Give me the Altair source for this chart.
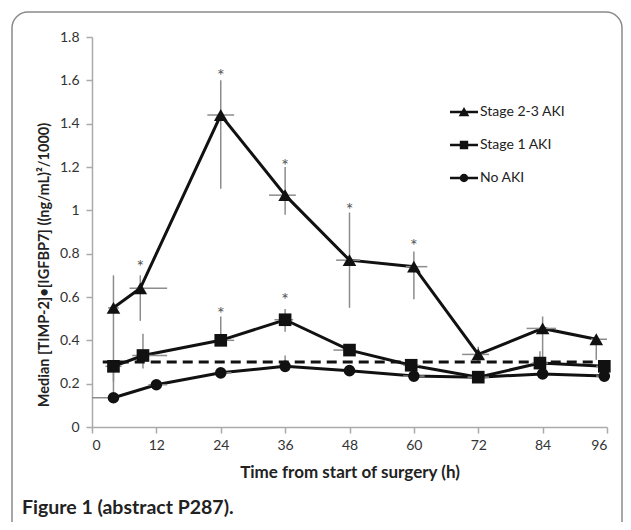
import altair as alt
import pandas as pd

# ---------------- data ----------------
series_names = ["Stage 2-3 AKI", "Stage 1 AKI", "No AKI"]

s23_t = [4, 9, 24, 36, 48, 60, 72, 84, 94]
s23_v = [0.55, 0.64, 1.44, 1.07, 0.77, 0.74, 0.335, 0.455, 0.405]
s23_lo = [0.16, 0.49, 1.10, 0.98, 0.55, 0.59, 0.30, 0.30, 0.31]
s23_hi = [0.70, 0.70, 1.60, 1.20, 0.99, 0.81, 0.37, 0.51, 0.42]
s23_xlo = [3, 7, 21.5, 33, 45.5, 58.5, 69, 81, 93]
s23_xhi = [5, 14, 26.5, 38, 50, 62.5, 74, 86.5, 96]

s1_t = [4, 9.5, 24, 36, 48, 59.5, 72, 83.5, 95.5]
s1_v = [0.28, 0.33, 0.40, 0.495, 0.355, 0.285, 0.23, 0.295, 0.28]
s1_lo = [0.21, 0.27, 0.39, 0.44, 0.34, 0.27, 0.22, 0.28, 0.27]
s1_hi = [0.30, 0.43, 0.51, 0.545, 0.37, 0.30, 0.24, 0.35, 0.30]
s1_xlo = [2.5, 7.5, 23, 34, 45, 58, 71, 82, 94]
s1_xhi = [5.5, 14, 26.5, 37.5, 49, 61, 73, 85, 96]

no_t = [4, 12, 24, 36, 48, 60, 72, 84, 95.5]
no_v = [0.135, 0.195, 0.25, 0.28, 0.26, 0.235, 0.23, 0.245, 0.235]
no_lo = [0.13, 0.19, 0.245, 0.27, 0.255, 0.23, 0.225, 0.24, 0.23]
no_hi = [0.14, 0.20, 0.26, 0.33, 0.27, 0.24, 0.235, 0.25, 0.24]
no_xlo = [0, 10.5, 23, 35, 47, 58, 70, 83, 94]
no_xhi = [5, 14, 26, 37, 49, 62, 74, 85, 96]

star_t = [9, 24, 36, 48, 60, 24, 36]
star_v = [0.755, 1.64, 1.225, 1.02, 0.855, 0.54, 0.605]

threshold_v = [0.3]
threshold_x1 = [2]
threshold_x2 = [96]

x_ticks = [0, 12, 24, 36, 48, 60, 72, 84, 96]
y_ticks = [0, 0.2, 0.4, 0.6, 0.8, 1.0, 1.2, 1.4, 1.6, 1.8]

caption = "Figure 1 (abstract P287)."
x_title = "Time from start of surgery (h)"
y_title = "Median [TIMP-2]\u2022[IGFBP7] ((ng/mL)\u00b2/1000)"

# ---------------- tables ----------------
def frame(name, t, v, lo, hi, xlo, xhi):
    return pd.DataFrame({"series": name, "t": t, "v": v, "lo": lo, "hi": hi,
                         "xlo": xlo, "xhi": xhi})

df = pd.concat([
    frame(series_names[0], s23_t, s23_v, s23_lo, s23_hi, s23_xlo, s23_xhi),
    frame(series_names[1], s1_t, s1_v, s1_lo, s1_hi, s1_xlo, s1_xhi),
    frame(series_names[2], no_t, no_v, no_lo, no_hi, no_xlo, no_xhi),
], ignore_index=True)
stars = pd.DataFrame({"t": star_t, "v": star_v})
thr = pd.DataFrame({"v": threshold_v, "x1": threshold_x1, "x2": threshold_x2})

FONT = "Lato"
W, H = 515, 390

xscale = alt.Scale(domain=[0, 96], nice=False, zero=False)
yscale = alt.Scale(domain=[0, 1.8], nice=False)

xaxis = alt.Axis(
    values=x_ticks, title=x_title, grid=False, domainColor="#aaaaaa", domainWidth=1.5,
    tickColor="#aaaaaa", tickWidth=1.5, tickSize=6, labelFont=FONT, labelFontSize=14,
    labelColor="#333333", labelPadding=5, titleFont=FONT, titleFontSize=17,
    titleFontWeight="bold", titleColor="#222222", titleY=45, titleBaseline="middle")
yaxis = alt.Axis(
    values=y_ticks, format=".1~f", title=None, grid=False, domainColor="#aaaaaa",
    domainWidth=1.5, tickColor="#aaaaaa", tickWidth=1.5, tickSize=6, labelFont=FONT,
    labelFontSize=14, labelColor="#333333", labelPadding=7)


def X(field):
    return alt.X(field, scale=xscale, axis=xaxis, title=x_title)


def Y(field):
    return alt.Y(field, scale=yscale, axis=yaxis, title=None)


base = alt.Chart(df)

lines = base.mark_line(color="#111111", strokeWidth=3).encode(
    x=X("t:Q"), y=Y("v:Q"), detail="series:N", order="t:Q")

vbars = base.mark_rule(color="#8c8c8c", strokeWidth=1.5).encode(
    x=X("t:Q"), y=Y("lo:Q"), y2="hi:Q")
hbars = base.mark_rule(color="#8c8c8c", strokeWidth=1.5).encode(
    x=X("xlo:Q"), x2="xhi:Q", y=Y("v:Q"))

threshold = alt.Chart(thr).mark_rule(color="#111111", strokeWidth=3,
                                     strokeDash=[10, 6]).encode(
    x=X("x1:Q"), x2="x2:Q", y=Y("v:Q"))

shape_of = {series_names[0]: ("triangle-up", 185),
            series_names[1]: ("square", 160),
            series_names[2]: ("circle", 135)}
pts = []
for name, (shp, sz) in shape_of.items():
    pts.append(base.transform_filter(alt.datum.series == name).mark_point(
        filled=True, color="#111111", opacity=1, shape=shp, size=sz).encode(
        x=X("t:Q"), y=Y("v:Q")))

# legend symbols: a short line with the marker in its middle (fill only, clockwise)
bar = "M-1,-0.09H1V0.09H-1Z"
tri_path = bar + "M0,-0.36L0.38,0.3L-0.38,0.3Z"
sq_path = bar + "M-0.3,-0.3H0.3V0.3H-0.3Z"
ci_path = bar + "M-0.3,0A0.3,0.3 0 1,1 0.3,0A0.3,0.3 0 1,1 -0.3,0Z"

legend_layer = base.transform_filter("false").mark_point(
    filled=True, color="#111111", opacity=1, size=784).encode(
    x=X("t:Q"), y=Y("v:Q"),
    shape=alt.Shape("series:N", scale=alt.Scale(
        domain=series_names, range=[tri_path, sq_path, ci_path]),
        legend=alt.Legend(title=None, orient="none", legendX=357, legendY=60,
                          symbolSize=784, symbolFillColor="#111111",
                          symbolOpacity=1, labelFont=FONT, labelFontSize=14,
                          labelColor="#222222", labelOffset=1, rowPadding=10,
                          padding=0)))

star_layer = alt.Chart(stars).mark_text(text="*", font=FONT, fontSize=18,
                                        color="#555555", baseline="middle",
                                        dy=5).encode(
    x=X("t:Q"), y=Y("v:Q"))

frame_rect = alt.Chart(thr).mark_rect(fill=None, stroke="#8a8a8a", strokeWidth=1.5,
                                      cornerRadius=16).encode(
    x=alt.value(-80), x2=alt.value(530), y=alt.value(-25), y2=alt.value(560))

ytitle_layer = alt.Chart(thr).mark_text(text=y_title, font=FONT, fontSize=14.5,
                                        fontWeight="bold", color="#222222",
                                        align="center", baseline="middle",
                                        angle=270).encode(
    x=alt.value(-47), y=alt.value(228))

cap = alt.Chart(thr).mark_text(text=caption, font=FONT, fontSize=19.5,
                               fontWeight="bold", color="#222222", align="left",
                               baseline="middle").encode(
    x=alt.value(-70), y=alt.value(471))

chart = alt.layer(
    lines, frame_rect, vbars, hbars, threshold, *pts, legend_layer, star_layer,
    ytitle_layer, cap
).properties(
    width=W, height=H,
    autosize=alt.AutoSizeParams(type="none"),
    padding={"left": 84, "top": 29, "right": 16, "bottom": 95},
    background="white",
).configure_view(stroke=None)

chart.save("out.html", embed_options={"renderer": "svg", "actions": False})
